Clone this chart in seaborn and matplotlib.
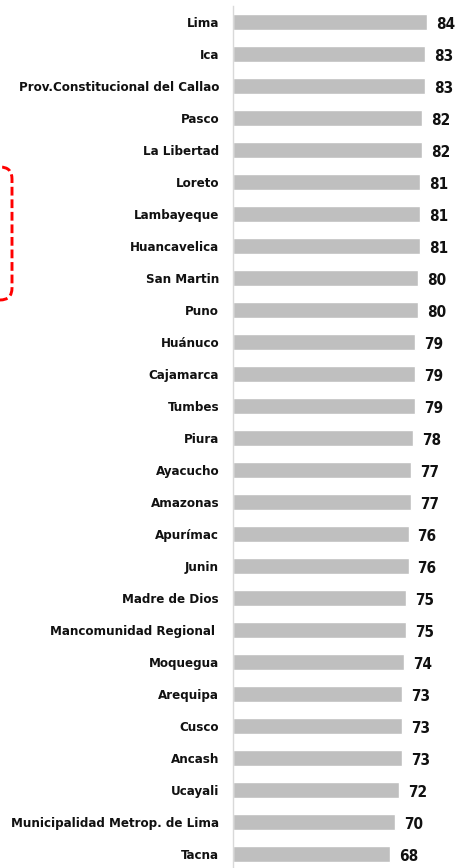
import matplotlib
matplotlib.use("Agg")
import matplotlib.pyplot as plt
from matplotlib import font_manager as fm
from matplotlib.transforms import IdentityTransform
import seaborn as sns
import pandas as pd
from matplotlib.patches import FancyBboxPatch

regions = ["Lima", "Ica", "Prov.Constitucional del Callao", "Pasco", "La Libertad",
           "Loreto", "Lambayeque", "Huancavelica", "San Martin", "Puno", "Huánuco",
           "Cajamarca", "Tumbes", "Piura", "Ayacucho", "Amazonas", "Apurímac", "Junin",
           "Madre de Dios", "Mancomunidad Regional ", "Moquegua", "Arequipa", "Cusco",
           "Ancash", "Ucayali", "Municipalidad Metrop. de Lima", "Tacna"]
values = [84, 83, 83, 82, 82, 81, 81, 81, 80, 80, 79, 79, 79, 78, 77, 77, 76, 76,
          75, 75, 74, 73, 73, 73, 72, 70, 68]

df = pd.DataFrame({"region": regions, "value": values})

sns.set_theme(style="white")

fonts = fm.fontManager.ttflist
names = {f.name for f in fonts}
if "Liberation Sans Narrow" in names:
    fam, stretch, tsize, vsize = "Liberation Sans Narrow", "normal", 10.6, 12.5
elif any(f.name == "DejaVu Sans" and f.stretch == "condensed" for f in fonts):
    fam, stretch, tsize, vsize = "DejaVu Sans", "condensed", 9.5, 11
else:
    fam, stretch, tsize, vsize = "Roboto", "normal", 9, 10
plt.rcParams['font.family'] = [fam, 'DejaVu Sans']
plt.rcParams['font.stretch'] = stretch

W, H = 456, 868
fig = plt.figure(figsize=(W / 100, H / 100), dpi=100)
ax_left, ax_top, ax_bot, ax_right = 233, 6, 868, 456
ax = fig.add_axes([ax_left / W, (H - ax_bot) / H, (ax_right - ax_left) / W, (ax_bot - ax_top) / H])

sns.barplot(data=df, x="value", y="region", orient="h", color="#BFBFBF",
            saturation=1, width=0.5, ax=ax)

slots = (ax_bot - ax_top) / 32.0
ax.set_ylim(-0.5 + slots, -0.5)
ax.set_xlim(0, (ax_right - ax_left) / 2.31)

for s in ["top", "right", "bottom"]:
    ax.spines[s].set_visible(False)
ax.spines["left"].set_color("#D9D9D9")
ax.spines["left"].set_linewidth(1)
ax.set_xticks([])
ax.set_xlabel("")
ax.set_ylabel("")
ax.tick_params(axis="y", length=0, pad=10)
for lbl in ax.get_yticklabels():
    lbl.set_fontweight("bold")
    lbl.set_fontsize(tsize)
    lbl.set_fontstretch(stretch)
    lbl.set_color("#111111")

for c in ax.containers:
    labs = ax.bar_label(c, labels=[f"{v:d}" for v in values], padding=6.5,
                        fontsize=vsize, fontweight="bold", color="#111111")
    for t in labs:
        t.set_fontstretch(stretch)
        t.xyann = (6.5, -1.8)

box = FancyBboxPatch((-60, H - 300), 72, 133,
                     boxstyle="round,pad=0,rounding_size=12",
                     transform=IdentityTransform(), fill=False,
                     edgecolor="#FF0000", linestyle=(0, (3, 1.3)), linewidth=2.1,
                     clip_on=False)
fig.patches.append(box)

fig.savefig("out.png", dpi=100)
